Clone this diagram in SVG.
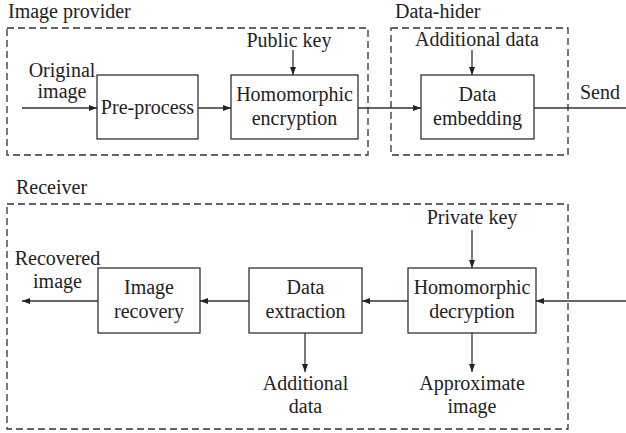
<svg xmlns="http://www.w3.org/2000/svg" width="626" height="433" viewBox="0 0 626 433">
<style>
.c{text-anchor:middle}
.box{fill:#fff;stroke:#333;stroke-width:1.3}
.dash{fill:none;stroke:#333;stroke-width:1.3;stroke-dasharray:7 4}
.ln{fill:none;stroke:#333;stroke-width:1.3}
.ar{marker-end:url(#ah)}
</style>
<defs>
<marker id="ah" viewBox="0 0 8 6" refX="8" refY="3" markerWidth="8" markerHeight="6" markerUnits="userSpaceOnUse" orient="auto">
<path d="M0,0 L8,3 L0,6 Z" fill="#222"/>
</marker>
</defs>
<rect width="626" height="433" fill="#fff"/>
<g font-family="'Liberation Serif', 'Times New Roman', serif" font-size="20" fill="#222">
<g id="image-provider">
<rect class="dash" x="7" y="28" width="361" height="127"/>
<text x="8" y="18">Image provider</text>
</g>
<g id="data-hider">
<rect class="dash" x="391" y="28" width="177" height="127"/>
<text x="395" y="18">Data-hider</text>
</g>
<g id="receiver">
<rect class="dash" x="7" y="204" width="561" height="225"/>
<text x="16" y="194">Receiver</text>
</g>

<g id="connectors">
<path class="ln ar" d="M22,108 H97"/>
<path class="ln ar" d="M198,108 H231"/>
<path class="ln ar" d="M358,108 H421"/>
<path class="ln" d="M534,108 H626"/>
<path class="ln ar" d="M293,50 V75"/>
<path class="ln ar" d="M472,50 V75"/>
<path class="ln ar" d="M626,301 H536"/>
<path class="ln ar" d="M408,301 H362"/>
<path class="ln ar" d="M249,301 H200"/>
<path class="ln ar" d="M98,301 H22"/>
<path class="ln ar" d="M472,230 V268"/>
<path class="ln ar" d="M472,333 V372"/>
<path class="ln ar" d="M305,333 V372"/>
</g>

<g id="original-image"><text class="c" x="62" y="77">Original</text><text class="c" x="62" y="98">image</text></g>
<g id="pre-process"><rect class="box" x="97" y="75" width="101" height="64"/><text class="c" x="147.5" y="114">Pre-process</text></g>
<g id="public-key"><text class="c" x="289" y="47">Public key</text></g>
<g id="homomorphic-encryption"><rect class="box" x="231" y="75" width="127" height="64"/><text class="c" x="294.5" y="101">Homomorphic</text><text class="c" x="294.5" y="125">encryption</text></g>
<g id="additional-data-in"><text class="c" x="477" y="46">Additional data</text></g>
<g id="data-embedding"><rect class="box" x="421" y="75" width="113" height="64"/><text class="c" x="477.5" y="101">Data</text><text class="c" x="477.5" y="125">embedding</text></g>
<g id="send"><text x="580" y="99">Send</text></g>

<g id="private-key"><text class="c" x="472" y="224">Private key</text></g>
<g id="homomorphic-decryption"><rect class="box" x="408" y="268" width="128" height="65"/><text class="c" x="472" y="294">Homomorphic</text><text class="c" x="472" y="318">decryption</text></g>
<g id="approximate-image"><text class="c" x="472" y="390">Approximate</text><text class="c" x="472" y="413">image</text></g>
<g id="data-extraction"><rect class="box" x="249" y="268" width="113" height="65"/><text class="c" x="305.5" y="294">Data</text><text class="c" x="305.5" y="318">extraction</text></g>
<g id="additional-data-out"><text class="c" x="305.5" y="390">Additional</text><text class="c" x="305.5" y="413">data</text></g>
<g id="image-recovery"><rect class="box" x="98" y="268" width="102" height="65"/><text class="c" x="149" y="294">Image</text><text class="c" x="149" y="318">recovery</text></g>
<g id="recovered-image"><text class="c" x="57.5" y="265">Recovered</text><text class="c" x="57.5" y="288">image</text></g>
</g>
</svg>
